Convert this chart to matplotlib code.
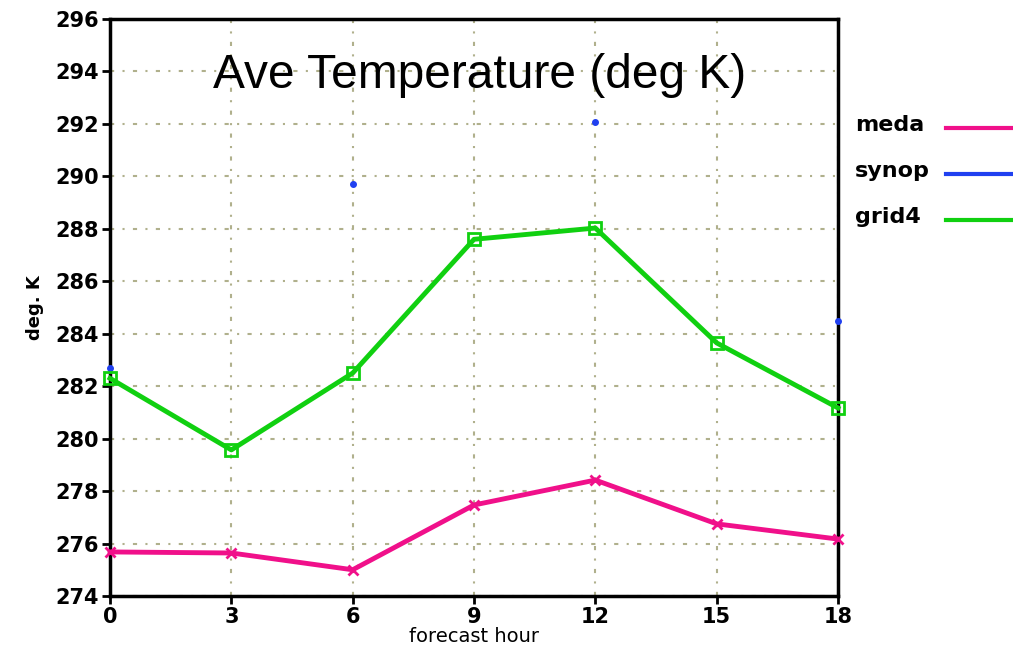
import numpy as np
import matplotlib.pyplot as plt

# forecast hours and temperatures (deg K)
hours = [0, 3, 6, 9, 12, 15, 18]
meda = [275.68, 275.64, 275.0, 277.47, 278.42, 276.75, 276.17]
synop = [282.7, np.nan, 289.7, np.nan, 292.07, np.nan, 284.5]
grid4 = [282.3, 279.57, 282.5, 287.6, 288.03, 283.65, 281.17]
series_names = ['meda', 'synop', 'grid4']
yticks = list(range(274, 297, 2))

narrow = ['DejaVu Sans Condensed', 'DejaVu Sans']

fig = plt.figure(figsize=(10.13, 6.51), dpi=100)
ax = fig.add_axes([110 / 1013, 55 / 651, 728 / 1013, 577 / 651])

ax.plot(hours, meda, color='#f0108a', lw=3.5, marker='x', ms=7, mew=2, clip_on=False, zorder=3)
ax.plot(hours, synop, color='#2040f0', lw=0, marker='o', ms=4, clip_on=False, zorder=3)
ax.plot(hours, grid4, color='#10d010', lw=3.5, marker='s', ms=8, mfc='none', mew=2, clip_on=False, zorder=3)

ax.set_xlim(0, 18)
ax.set_ylim(274, 296)
ax.set_xticks(hours)
ax.set_yticks(yticks)
ax.tick_params(direction='out', length=6, width=2, labelsize=15, pad=2)
for lab in ax.get_xticklabels() + ax.get_yticklabels():
    lab.set_fontweight('bold')
    lab.set_family(narrow)
ax.grid(True, color='#b0b08c', lw=1.5, ls=(0, (2, 4, 1, 4)))
for s in ax.spines.values():
    s.set_linewidth(2.5)

ax.set_xlabel('forecast hour', fontsize=14, labelpad=0, family=narrow)
ax.set_ylabel('deg. K', fontsize=13, fontweight='bold', labelpad=8, family=narrow)

ax.text(0.508, 0.902, 'Ave Temperature (deg K)', transform=ax.transAxes, ha='center', va='center',
        fontsize=34.5, family='Liberation Sans')

# legend drawn at right, outside the axes
colors = ['#f0108a', '#2040f0', '#10d010']
for i, (name, c) in enumerate(zip(series_names, colors)):
    y = 1 - (125 + i * 46) / 651
    fig.text(855 / 1013, y, name, fontsize=16, fontweight='bold', va='center', family=narrow)
    fig.add_artist(plt.Line2D([946 / 1013, 1012 / 1013], [y - 0.004, y - 0.004], color=c, lw=3))

fig.savefig('out.png', dpi=100)
